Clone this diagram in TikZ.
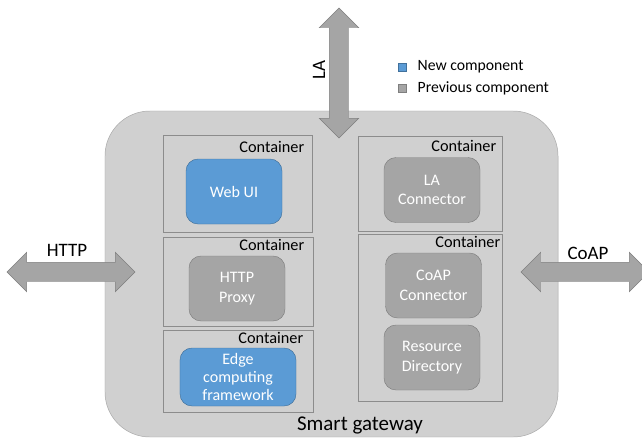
\documentclass[tikz,border=0pt]{standalone}
\usepackage{fontspec}
\setmainfont{Carlito}
\usepackage{tikz}
\usetikzlibrary{shapes.arrows}
\usetikzlibrary{positioning}
\usetikzlibrary{calc}

\definecolor{gwfill}{HTML}{D0D0D0}
\definecolor{gwline}{HTML}{A6A6A6}
\definecolor{boxline}{HTML}{8C8C8C}
\definecolor{newblue}{HTML}{5B9BD5}
\definecolor{newline}{HTML}{41719C}
\definecolor{oldgray}{HTML}{A5A5A5}
\definecolor{oldline}{HTML}{7F7F7F}

\tikzset{
  gateway/.style={draw=gwline, fill=gwfill, rounded corners=1.35cm,
    minimum width=13.59cm, minimum height=9.78cm, inner sep=0pt},
  container/.style={draw=boxline, line width=0.8pt, fill=gwfill, inner sep=0pt},
  ctitle/.style={anchor=base east, inner sep=0pt, font=\fontsize{13.9}{16}\selectfont},
  comp/.style={rounded corners=0.36cm, minimum width=2.88cm, minimum height=1.95cm,
    align=center, text=white, inner sep=0pt, font=\fontsize{13.7}{16.5}\selectfont},
  newcomp/.style={comp, draw=newline, fill=newblue},
  oldcomp/.style={comp, draw=oldline, fill=oldgray},
  portarrow/.style={double arrow, draw=oldline, fill=oldgray,
    double arrow head extend=0.3cm, inner xsep=0pt, inner ysep=0.285cm},
  portlabel/.style={font=\fontsize{16.2}{19}\selectfont, inner sep=0pt},
  keybox/.style={minimum size=0.25cm, inner sep=0pt},
  keytext/.style={font=\fontsize{13.4}{15}\selectfont, inner sep=0pt},
}

\begin{document}
\begin{tikzpicture}[x=0.03cm, y=-0.03cm]
\clip (0,0) rectangle (642,439);

\node[gateway] (gw) at (331.5,274) {};
\node[anchor=base, inner sep=0pt, font=\fontsize{17.9}{21}\selectfont] (gwname) at (360,430) {Smart gateway};

\node[container, minimum width=4.47cm, minimum height=2.91cm] (c1) at (237.5,183.5) {};
\node[container, minimum width=4.5cm, minimum height=2.67cm] (c2) at (238,281.5) {};
\node[container, minimum width=4.5cm, minimum height=2.46cm] (c3) at (238,371) {};
\node[container, minimum width=4.32cm, minimum height=2.85cm] (c4) at (430,183.5) {};
\node[container, minimum width=4.32cm, minimum height=5.01cm] (c5) at (430,317.5) {};

\node[ctitle] (t1) at ($(c1.north east)+(-8,18)$) {Container};
\node[ctitle] (t2) at ($(c2.north east)+(-9,14)$) {Container};
\node[ctitle] (t3) at ($(c3.north east)+(-10,14)$) {Container};
\node[ctitle] (t4) at ($(c4.north east)+(-6,16)$) {Container};
\node[ctitle] (t5) at ($(c5.north east)+(-2,14)$) {Container};

\node[newcomp] (webui) at (234,191.5) {Web UI};
\node[oldcomp] (proxy) at (237,288.5) {HTTP\\Proxy};
\node[newcomp, minimum width=3.48cm, minimum height=1.74cm, font=\fontsize{13.7}{15}\selectfont] (edge) at (238,377) {Edge\\computing\\framework};
\node[oldcomp] (laconn) at (432,190) {LA\\Connector};
\node[oldcomp] (coapconn) at (433.5,285.5) {CoAP\\Connector};
\node[oldcomp] (rd) at (432,357.5) {Resource\\Directory};

\node[portarrow, minimum height=3.9cm, rotate=90] (la) at (339,73) {};
\node[portarrow, minimum height=3.84cm] (http) at (71,272) {};
\node[portarrow, minimum height=3.84cm] (coap) at (585,272) {};
\node[portlabel, rotate=90] (lalabel) at (319,70) {LA};
\node[portlabel] (httplabel) at (67,250) {HTTP};
\node[portlabel] (coaplabel) at (588,253) {CoAP};

\node[keybox, fill=newblue, draw=newline] (newkey) at (402,67) {};
\node[keytext, right=0.33cm of newkey] (newtext) {New component};
\node[keybox, fill=oldgray, draw=oldline] (oldkey) at (402,88) {};
\node[keytext, right=0.33cm of oldkey] (oldtext) {Previous component};
\end{tikzpicture}
\end{document}
